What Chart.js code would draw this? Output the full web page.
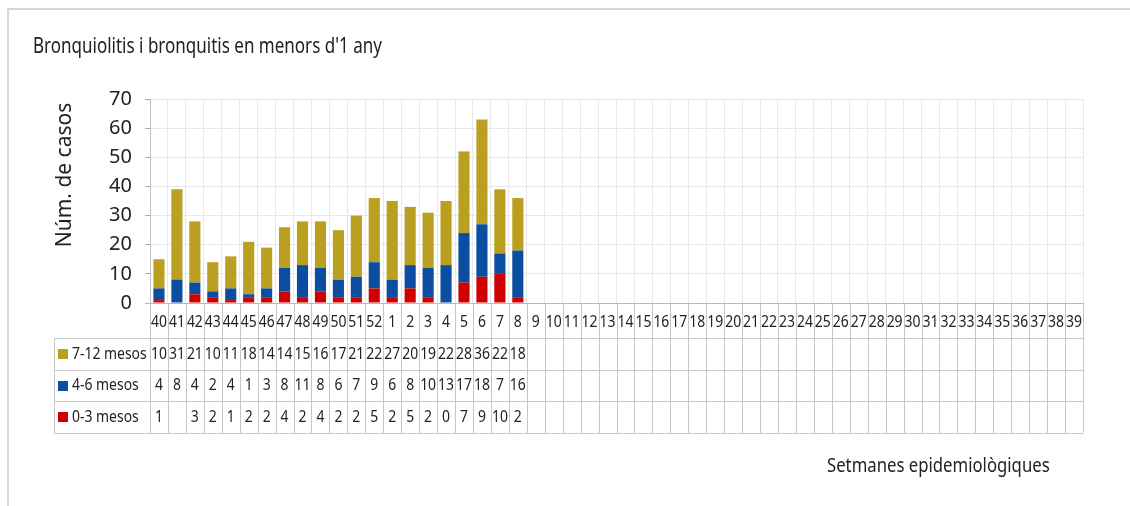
<!DOCTYPE html>
<html>
<head>
<meta charset="utf-8">
<script src="https://cdn.jsdelivr.net/npm/chart.js@4.4.1/dist/chart.umd.min.js"></script>
<style>
  html, body { margin: 0; padding: 0; background: #fff; }
</style>
</head>
<body>
<canvas id="barChart" width="1130" height="506"></canvas>
<script>
// Setmanes epidemiològiques (de la 40 a la 39)
var setmanes = ['40','41','42','43','44','45','46','47','48','49','50','51','52',
  '1','2','3','4','5','6','7','8','9','10','11','12','13','14','15','16','17','18','19','20',
  '21','22','23','24','25','26','27','28','29','30','31','32','33','34','35','36','37','38','39'];

// casos per grup d'edat
var mesos712 = [10, 31, 21, 10, 11, 18, 14, 14, 15, 16, 17, 21, 22, 27, 20, 19, 22, 28, 36, 22, 18];
var mesos46  = [4, 8, 4, 2, 4, 1, 3, 8, 11, 8, 6, 7, 9, 6, 8, 10, 13, 17, 18, 7, 16];
var mesos03  = [1, null, 3, 2, 1, 2, 2, 4, 2, 4, 2, 2, 5, 2, 5, 2, 0, 7, 9, 10, 2];

var colors = { m712: '#BA9F20', m46: '#0B4DA0', m03: '#D00000' };
var textColor = '#222222';
var fontFam = "'Noto Sans', 'Open Sans', sans-serif";

// text estret horitzontalment
function drawText(c, txt, x, y, size, sx, align) {
  c.save();
  c.font = size + 'px ' + fontFam;
  c.fillStyle = textColor;
  c.textBaseline = 'middle';
  var w = c.measureText(txt).width * sx;
  var x0 = x;
  if (align === 'center') x0 = x - w / 2;
  else if (align === 'right') x0 = x - w;
  c.translate(x0, y);
  c.scale(sx, 1);
  c.textAlign = 'left';
  c.fillText(txt, 0, 0);
  c.restore();
}

var taulaPlugin = {
  id: 'taula',
  beforeDraw: function(chart) {
    var c = chart.ctx;
    c.save();
    c.strokeStyle = '#d6d6d6';
    c.lineWidth = 2;
    c.beginPath();
    c.moveTo(8, 506); c.lineTo(8, 9); c.lineTo(1130, 9);
    c.stroke();
    c.restore();
  },
  afterDraw: function(chart) {
    var c = chart.ctx, x = chart.scales.x, area = chart.chartArea;
    var half = (x.getPixelForValue(1) - x.getPixelForValue(0)) / 2;
    var firstL = x.getPixelForValue(0) - half;
    var lastR = x.getPixelForValue(setmanes.length - 1) + half;
    var axisY = area.bottom;
    var rowTop = axisY + 35;
    var rowH = 31.7;
    var legLeft = 54;
    var files = [
      { nom: '7-12 mesos', dades: mesos712, color: colors.m712 },
      { nom: '4-6 mesos', dades: mesos46, color: colors.m46 },
      { nom: '0-3 mesos', dades: mesos03, color: colors.m03 }
    ];
    var bottom = rowTop + rowH * files.length;

    c.save();
    c.strokeStyle = '#c6c6c6';
    c.lineWidth = 1;
    c.beginPath();
    // línies horitzontals
    for (var r = 0; r <= files.length; r++) {
      var yy = Math.round(rowTop + r * rowH) + 0.5;
      c.moveTo(legLeft, yy); c.lineTo(lastR, yy);
    }
    // línies verticals
    for (var i = 0; i <= setmanes.length; i++) {
      var xx = Math.round(firstL + i * half * 2) + 0.5;
      c.moveTo(xx, axisY); c.lineTo(xx, bottom);
    }
    c.moveTo(legLeft + 0.5, rowTop); c.lineTo(legLeft + 0.5, bottom);
    c.stroke();
    // eix
    c.strokeStyle = '#b8b8b8';
    c.beginPath();
    c.moveTo(area.left - 5, Math.round(axisY) + 0.5); c.lineTo(lastR, Math.round(axisY) + 0.5);
    c.stroke();
    c.restore();

    // etiquetes de setmana
    setmanes.forEach(function(s, i) {
      drawText(c, s, x.getPixelForValue(i), axisY + 19, 17, 0.82, 'center');
    });

    // files de dades
    files.forEach(function(f, r) {
      var cy = rowTop + r * rowH + rowH / 2;
      c.fillStyle = f.color;
      c.fillRect(legLeft + 4, Math.round(cy - 5), 10, 10);
      drawText(c, f.nom, legLeft + 18, cy, 17, 0.82, 'left');
      f.dades.forEach(function(v, i) {
        if (v === null || v === undefined) return;
        drawText(c, String(v), x.getPixelForValue(i), cy, 17, 0.82, 'center');
      });
    });

    // títols
    drawText(c, "Bronquiolitis i bronquitis en menors d'1 any", 33, 47, 21, 0.81, 'left');
    drawText(c, 'Setmanes epidemiològiques', 827, 467, 19, 0.88, 'left');
    c.save();
    c.translate(65, 175);
    c.rotate(-Math.PI / 2);
    c.font = '21px ' + fontFam;
    c.fillStyle = textColor;
    c.textAlign = 'center';
    c.textBaseline = 'middle';
    c.fillText('Núm. de casos', 0, 0);
    c.restore();
  }
};

var ctx = document.getElementById('barChart').getContext('2d');
var barChart = new Chart(ctx, {
  type: 'bar',
  data: {
    labels: setmanes,
    datasets: [
      { label: '0-3 mesos', data: mesos03, backgroundColor: colors.m03 },
      { label: '4-6 mesos', data: mesos46, backgroundColor: colors.m46 },
      { label: '7-12 mesos', data: mesos712, backgroundColor: colors.m712 }
    ]
  },
  options: {
    responsive: false,
    animation: false,
    devicePixelRatio: 1,
    datasets: { bar: { barPercentage: 0.62, categoryPercentage: 1 } },
    layout: { padding: { left: 0, right: 47, top: 99, bottom: 203 } },
    plugins: { legend: { display: false }, tooltip: { enabled: false } },
    scales: {
      x: {
        stacked: true,
        grid: { offset: true, color: '#e8e8e8', drawTicks: false },
        border: { display: false },
        ticks: { display: false },
        afterFit: function(s) { s.height = 0; }
      },
      y: {
        stacked: true,
        min: 0,
        max: 70,
        ticks: { stepSize: 10, padding: 13, color: textColor, font: { family: fontFam, size: 20 } },
        grid: { color: '#e8e8e8', tickColor: '#a8a8a8', tickLength: 5 },
        border: { color: '#c0c0c0' },
        afterFit: function(s) { s.width = 150; }
      }
    }
  },
  plugins: [taulaPlugin]
});
</script>
</body>
</html>
